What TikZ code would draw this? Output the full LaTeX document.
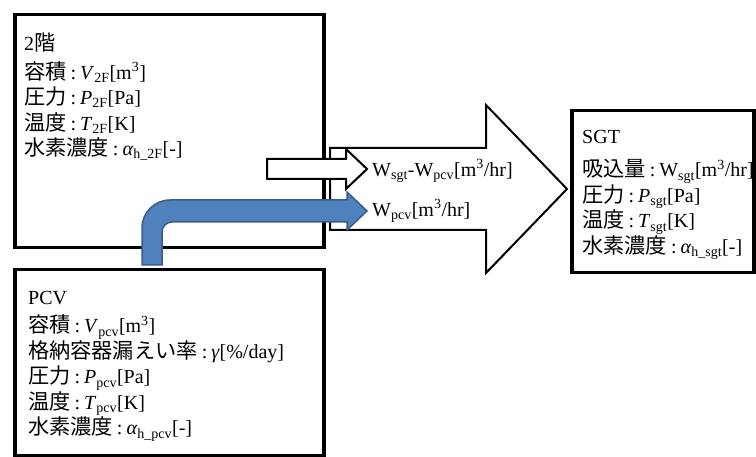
\documentclass[tikz,border=0pt]{standalone}
\usepackage{fontspec}
\setmainfont{Liberation Serif}
\newfontfamily\jp[Scale=1.06]{Noto Sans CJK JP}
\newcommand{\J}[1]{{\jp #1}\hspace{0.2em}:\hspace{0.2em}}
\newcommand{\sub}[1]{\textsubscript{#1}}
\usetikzlibrary{positioning}
\definecolor{flowblue}{RGB}{79,129,189}
\definecolor{flowedge}{RGB}{56,93,138}

\begin{document}
\begin{tikzpicture}[
x=1pt, y=-1pt,
room/.style={rectangle, draw, line width=3.5pt, anchor=north west, inner sep=0pt},
info/.style={anchor=north west, align=left, inner sep=0pt, font=\fontsize{20}{25.5}\selectfont},
flowlabel/.style={anchor=base west, inner sep=0pt, font=\fontsize{20}{24}\selectfont},
bigflow/.style={draw, fill=white, line width=2pt, line join=miter},
netflow/.style={draw, fill=white, line width=2pt, line join=miter},
leakflow/.style={draw=flowedge, fill=flowblue, line width=1.5pt, line join=miter},
]
\useasboundingbox (0,0) rectangle (756,457);

\node[room, minimum width=309pt, minimum height=233pt] (upper) at (13,13) {};
\node[room, minimum width=309pt, minimum height=186pt] (pcv) at (13,268) {};
\node[room, minimum width=182pt, minimum height=162pt] (sgt) at (570,109) {};

\coordinate (tail) at (330,148);
\coordinate (tip) at (567,189);
\draw[bigflow] (tail) -- (486,148) -- (486,105) -- (tip) -- (486,273) -- (486,230) -- (330,230) -- cycle;

\coordinate (nettail) at (267,159);
\coordinate (nettip) at (367,169);
\draw[netflow] (nettail) -- (346,159) -- (346,149) -- (nettip) -- (346,189) -- (346,179) -- (267,179) -- cycle;

\coordinate (leaktail) at (142,265);
\coordinate (leaktip) at (367,211);
\draw[leakflow] (leaktail) -- (142,228) .. controls (142,212.5) and (154.5,200) .. (170,200)
  -- (347,200) -- (347,192) -- (leaktip) -- (347,230) -- (347,222) -- (172,222)
  .. controls (166.5,222) and (162,226.5) .. (162,232) -- (162,265) -- cycle;

\node[info] (upperinfo) at (24,33) {2{\jp 階}\\[3pt]
\J{容積}\textit{V}\sub{2F}[m\textsuperscript{3}]\\
\J{圧力}\textit{P}\sub{2F}[Pa]\\
\J{温度}\textit{T}\sub{2F}[K]\\
\J{水素濃度}\textit{α}\sub{h\_2F}[-]};

\node[info] (pcvinfo) at (28,291) {PCV\\[3pt]
\J{容積}\textit{V}\sub{pcv}[m\textsuperscript{3}]\\
\J{格納容器漏えい率}\textit{γ}[\%/day]\\
\J{圧力}\textit{P}\sub{pcv}[Pa]\\
\J{温度}\textit{T}\sub{pcv}[K]\\
\J{水素濃度}\textit{α}\sub{h\_pcv}[-]};

\node[info] (sgtinfo) at (582,130) {SGT\\[8pt]
\J{吸込量}W\sub{sgt}[m\textsuperscript{3}/hr]\\
\J{圧力}\textit{P}\sub{sgt}[Pa]\\
\J{温度}\textit{T}\sub{sgt}[K]\\
\J{水素濃度}\textit{α}\sub{h\_sgt}[-]};

\node[flowlabel] (wnet) at (372,176.5) {W\sub{sgt}-W\sub{pcv}[m\textsuperscript{3}/hr]};
\node[flowlabel] (wpcv) at (372,216.5) {W\sub{pcv}[m\textsuperscript{3}/hr]};
\end{tikzpicture}
\end{document}
